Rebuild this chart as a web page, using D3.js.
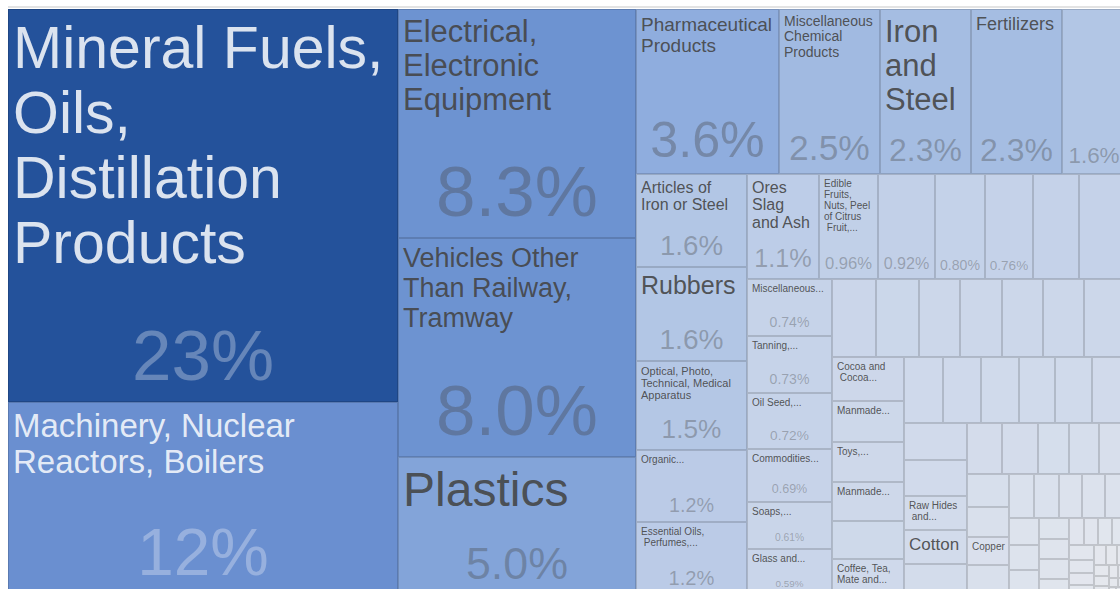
<!DOCTYPE html>
<html>
<head>
<meta charset="utf-8">
<script src="https://cdn.jsdelivr.net/npm/d3@7"></script>
<style>
html,body{margin:0;padding:0;background:#fff;overflow:hidden;}
svg{display:block;}
text{font-family:"Liberation Sans",Arial,Helvetica,sans-serif;white-space:pre;}
</style>
</head>
<body>
<svg id="chart" width="1120" height="589"></svg>
<script>
// ---- data (share of total exports, %) ----
const categories = [
  "Mineral Fuels, Oils, Distillation Products",
  "Machinery, Nuclear Reactors, Boilers",
  "Electrical, Electronic Equipment",
  "Vehicles Other Than Railway, Tramway",
  "Plastics",
  "Pharmaceutical Products",
  "Miscellaneous Chemical Products",
  "Iron and Steel",
  "Fertilizers",
  "",
  "Articles of Iron or Steel",
  "Rubbers",
  "Optical, Photo, Technical, Medical Apparatus",
  "Organic...",
  "Essential Oils, Perfumes,...",
  "Ores Slag and Ash",
  "Edible Fruits, Nuts, Peel of Citrus Fruit,...",
  "", "", "", "", "",
  "Miscellaneous...",
  "Tanning,...",
  "Oil Seed,...",
  "Commodities...",
  "Soaps,...",
  "Glass and...",
  "", "", "", "", "", "", "",
  "Cocoa and Cocoa...",
  "Manmade...",
  "Toys,...",
  "Manmade...",
  "",
  "Coffee, Tea, Mate and...",
  "", "", "", "", "", "",
  "", "",
  "Raw Hides and...",
  "Cotton",
  "",
  "", "", "", "", "",
  "", "",
  "Copper",
  "",
  "", "", "", "", "",
  "", "", "",
  "", "", "", "",
  "", "", "", "",
  "", "", "", "", "", "", "", "", "", "", "", "", "", "", "", "", ""
];
const shares = [
  23.46, 11.5, 8.3, 7.96, 5.0,
  3.6, 2.54, 2.3, 2.28, 1.62,
  1.6, 1.59, 1.52, 1.24, 1.24,
  1.149, 0.96, 0.92, 0.804, 0.764, 0.75, 0.75,
  0.74, 0.73, 0.72, 0.69, 0.61, 0.59,
  0.525, 0.52, 0.49, 0.50, 0.50, 0.49, 0.50,
  0.48, 0.46, 0.44, 0.43, 0.42, 0.40,
  0.385, 0.385, 0.375, 0.365, 0.365, 0.345,
  0.35, 0.35, 0.32, 0.32, 0.30,
  0.275, 0.275, 0.245, 0.23, 0.21,
  0.215, 0.195, 0.18, 0.19,
  0.168, 0.168, 0.155, 0.155, 0.145,
  0.125, 0.12, 0.115,
  0.096, 0.092, 0.092, 0.073,
  0.062, 0.06, 0.058, 0.057,
  0.055, 0.05, 0.045, 0.04, 0.036, 0.032, 0.028, 0.025, 0.022, 0.02, 0.018, 0.015, 0.013, 0.011, 0.009, 0.007, 0.005
];

// ---- style config ----
const colorDomain = [0.03, 0.15, 0.5, 1.1, 1.6, 2.5, 3.6, 5, 8, 11.5, 23.46];
const colorRange = ["#e5e8ee","#dce2ed","#ccd7ea","#bfcee8","#b2c6e5","#a2bbe1","#8fadde","#83a4d9","#6d93d1","#6a8fd0","#24529b"];
const FONT = '"Liberation Sans", Arial, Helvetica, sans-serif';
const X0 = 8, Y0 = 9, W = 1118, H = 586;

const svg = d3.select("#chart");
svg.append("rect").attr("x", 8).attr("y", 6).attr("width", 1112).attr("height", 2).attr("fill", "#e3e3e3");

const color = d3.scaleLog().domain(colorDomain).range(colorRange)
  .interpolate(d3.interpolateRgb).clamp(true);

const root = d3.hierarchy({children: categories.map((c, i) => ({name: c, share: shares[i]}))})
  .sum(d => d.share || 0);
d3.treemap().tile(d3.treemapSquarify).size([W, H])(root);

const ctx = document.createElement("canvas").getContext("2d");
function tw(s, fs) { ctx.font = "100px " + FONT; return ctx.measureText(s).width * fs / 100; }
function wrap(words, maxW, fs) {
  const lines = []; let cur = "";
  for (const w of words) {
    const t = cur ? cur + " " + w : w;
    if (!cur || tw(t, fs) <= maxW) cur = t; else { lines.push(cur); cur = w; }
  }
  if (cur) lines.push(cur);
  return lines;
}
const fmt = v => (v >= 10 ? d3.format(".0f")(v) : v >= 1 ? d3.format(".1f")(v) : d3.format(".2f")(v)) + "%";

function fitName(name, w, h, pctH) {
  const availW = w - 10, availH = h - pctH - 8;
  const words = name.split(" ");
  let fs;
  if (name.endsWith("...")) fs = 10;
  else {
    const sumW = d3.sum(words, s => tw(s, 1));
    fs = Math.sqrt(availW * Math.max(availH, 10) / (sumW * 1.4));
    fs = Math.floor(Math.min(fs, 59, availW / d3.max(words, s => tw(s, 1))));
    while (fs > 10) {
      const lines = wrap(words, availW, fs);
      if (lines.length * 1.1 * fs <= availH * 1.1) break;
      fs--;
    }
    fs = Math.max(fs, 10);
  }
  const lines = wrap(words, availW, fs);
  if (name.endsWith("...") && lines.length > 1 && lines[lines.length - 1].indexOf(" ") < 0) {
    lines[lines.length - 1] = " " + lines[lines.length - 1];
  }
  return {fs, lines};
}

const g = svg.append("g").attr("transform", `translate(${X0},${Y0})`);
const defs = svg.append("defs");
const leaves = root.leaves();

leaves.forEach((d, i) => {
  const rx0 = Math.round(d.x0), ry0 = Math.round(d.y0), rx1 = Math.round(d.x1), ry1 = Math.round(d.y1);
  const w = rx1 - rx0, h = ry1 - ry0;
  const fill = color(d.value);
  g.append("rect")
    .attr("x", rx0 + 0.5).attr("y", ry0 + 0.5)
    .attr("width", Math.max(0, w - 1)).attr("height", Math.max(0, h - 1))
    .attr("fill", fill)
    .attr("stroke", d3.color(fill).darker(0.45))
    .attr("stroke-width", 1);

  const light = d.value > 10;
  const tcol = light ? "#ffffff" : "#444444";
  const pctText = fmt(d.data.share);
  const showPct = (d.x1 - d.x0) >= 47 && (d.y1 - d.y0) >= 45;
  const pctFs = Math.min(71, (h - 20) * 0.38, 0.8 * w / tw(pctText, 1));

  defs.append("clipPath").attr("id", "clip" + i)
    .append("rect").attr("x", rx0 + X0).attr("y", ry0 + Y0).attr("width", w).attr("height", h);
  const tg = svg.append("g").attr("clip-path", `url(#clip${i})`)
    .append("g").attr("transform", `translate(${X0},${Y0})`);

  if (d.data.name) {
    const {fs, lines} = fitName(d.data.name, w, h, showPct ? 1.8 * pctFs : 0);
    const t = tg.append("text")
      .attr("font-size", fs)
      .attr("fill", tcol)
      .attr("fill-opacity", light ? 0.84 : 0.9);
    lines.forEach((ln, k) => {
      t.append("tspan").attr("x", rx0 + 5).attr("y", ry0 + 4 + 0.93 * fs + k * 1.1 * fs).text(ln);
    });
  }
  if (showPct) {
    tg.append("text")
      .attr("x", (rx0 + rx1) / 2)
      .attr("y", ry1 - (0.22 * pctFs + 6))
      .attr("text-anchor", "middle")
      .attr("font-size", pctFs)
      .attr("fill", tcol)
      .attr("fill-opacity", light ? 0.3 : 0.35)
      .text(pctText);
  }
});
</script>
</body>
</html>
